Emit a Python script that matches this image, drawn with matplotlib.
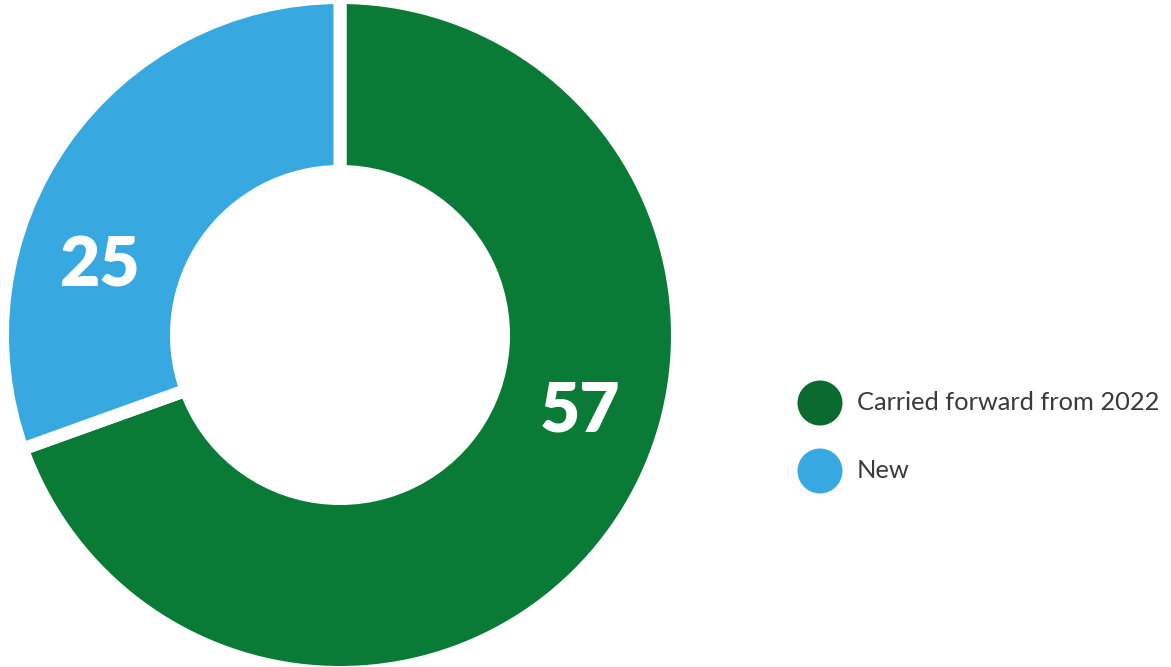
import numpy as np
import matplotlib
matplotlib.use("Agg")
import matplotlib.pyplot as plt

# Project counts by origin
categories = ["Carried forward from 2022", "New"]
values = [57, 25]
wedge_colors = ["#097B36", "#38A9E0"]
legend_colors = ["#0B6B2F", "#38A9E0"]

W, H = 1171, 667
fig = plt.figure(figsize=(W / 100, H / 100), dpi=100)
fig.patch.set_facecolor("white")

# Donut geometry in pixels
cx, cy, r_out, r_in, gap = 340, 335, 331, 170, 13
ax = fig.add_axes([(cx - r_out) / W, (H - cy - r_out) / H, 2 * r_out / W, 2 * r_out / H])
unit = r_out  # pixels per data unit
R = (r_out + gap / 2) / unit
width = ((r_out + gap / 2) - (r_in - gap / 2)) / unit

wedges, _ = ax.pie(
    values,
    colors=wedge_colors,
    startangle=90,
    counterclock=False,
    radius=R,
    wedgeprops=dict(width=width, edgecolor="white", linewidth=gap * 0.72),
)
ax.set_xlim(-1, 1)
ax.set_ylim(-1, 1)
ax.set_aspect("equal")
ax.axis("off")

# Value labels on the ring
mid_r = (r_out + r_in) / 2 / unit
for w, v in zip(wedges, values):
    ang = np.deg2rad((w.theta1 + w.theta2) / 2 + 18.2)
    ax.text(mid_r * np.cos(ang), mid_r * np.sin(ang) - 4.5 / unit, f"{v}",
            ha="center", va="center", color="white",
            fontsize=50, fontweight="heavy", family=["Lato", "DejaVu Sans"])

# Legend
lax = fig.add_axes([0, 0, 1, 1])
lax.set_xlim(0, W)
lax.set_ylim(H, 0)
lax.axis("off")
rows_y = [403, 471]
for y, lab, c in zip(rows_y, categories, legend_colors):
    lax.scatter([820], [y], s=(45 * 0.72) ** 2, color=c, edgecolors="none")
    lax.text(857, y, lab, ha="left", va="center", fontsize=18.3,
             fontweight="normal", color="#3a3a3a", family=["Lato", "DejaVu Sans"])

fig.savefig("out.png", dpi=100, facecolor="white")
